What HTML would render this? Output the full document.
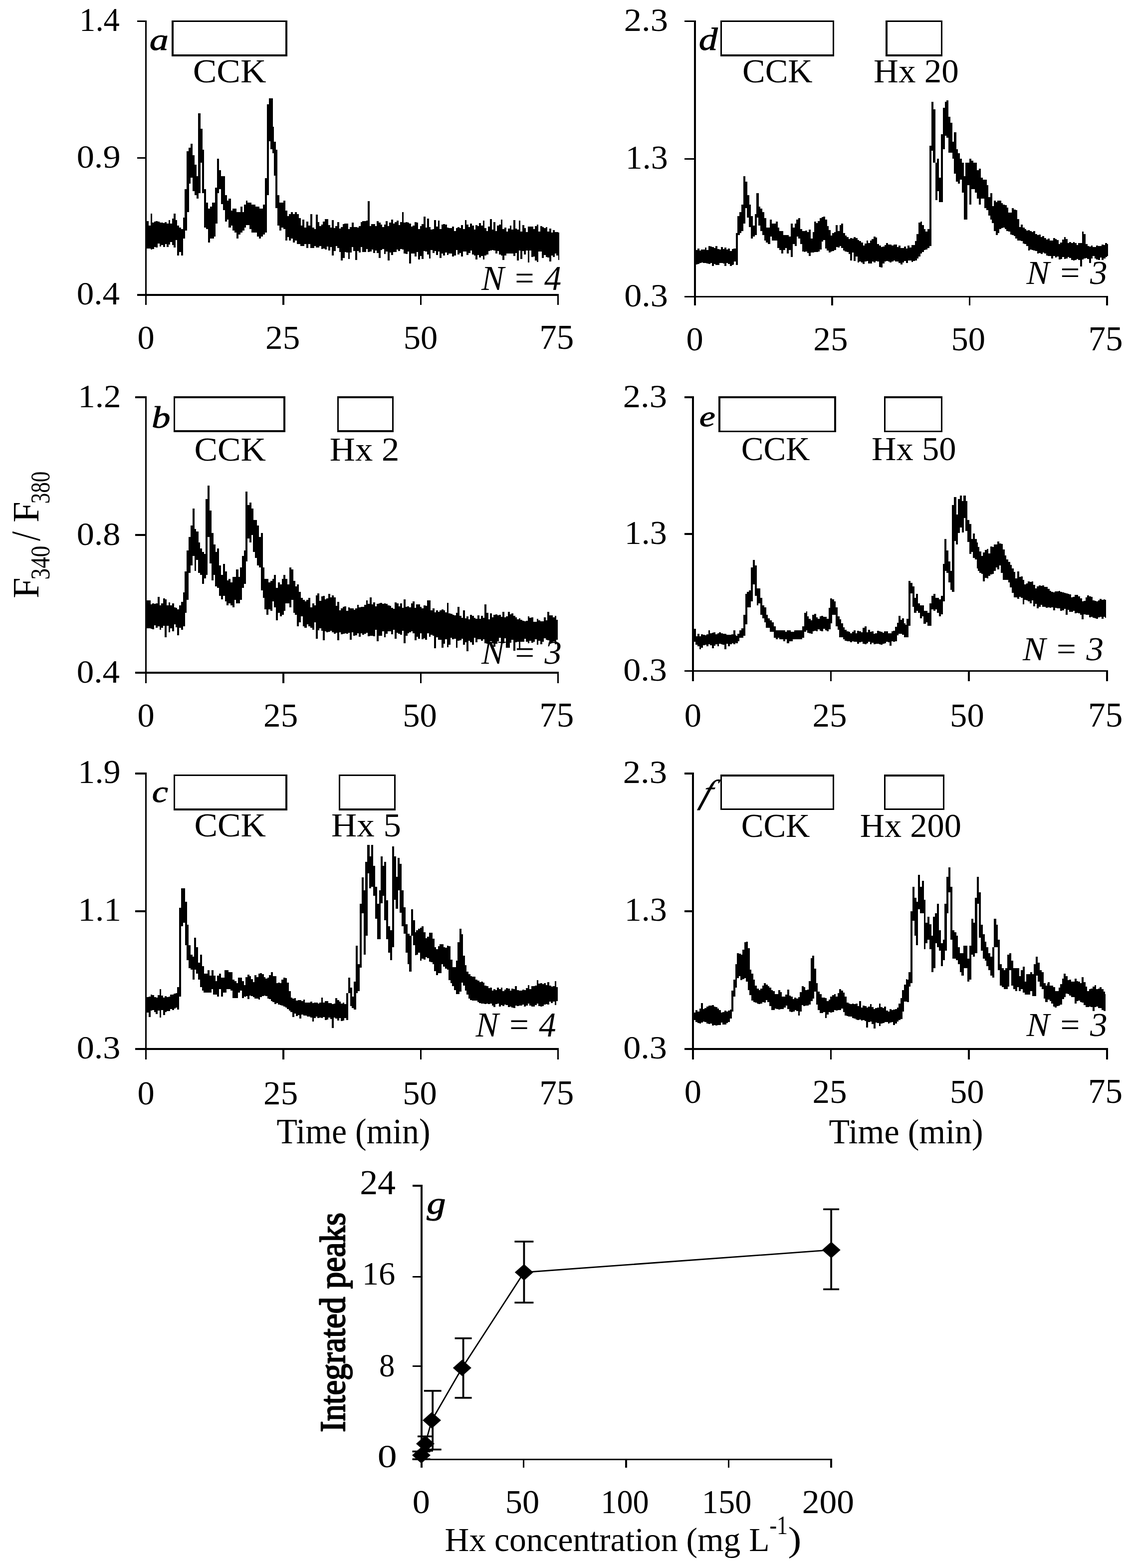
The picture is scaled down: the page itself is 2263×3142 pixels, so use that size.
<!DOCTYPE html>
<html><head><meta charset="utf-8"><title>Figure</title>
<style>
html,body{margin:0;padding:0;background:#fff;}
svg{display:block;}
text{font-family:"Liberation Serif","Times New Roman",serif;fill:#000;}
.r{font-style:normal;font-weight:normal;}
.i{font-style:italic;font-weight:normal;}
.b{font-style:normal;font-weight:bold;}
.bi{font-style:italic;font-weight:bold;}
</style></head><body>
<svg width="2263" height="3142" viewBox="0 0 2263 3142">
<rect width="2263" height="3142" fill="#fff"/>
<g fill="#000" shape-rendering="crispEdges">
<rect x="290.7" y="40.8" width="3.6" height="570.6"/>
<rect x="275.3" y="40.8" width="17.2" height="3.5"/>
<rect x="275.3" y="314.9" width="17.2" height="3.5"/>
<rect x="275.3" y="589.0" width="845.1" height="3.5"/>
<rect x="566.1" y="590.8" width="3.6" height="20.6"/>
<rect x="841.5" y="590.8" width="3.6" height="20.6"/>
<rect x="1116.8" y="590.8" width="3.6" height="20.6"/>
<rect x="290.7" y="794.4" width="3.6" height="574.3"/>
<rect x="271.3" y="794.4" width="21.2" height="3.5"/>
<rect x="271.3" y="1070.3" width="21.2" height="3.5"/>
<rect x="271.3" y="1346.3" width="849.1" height="3.5"/>
<rect x="566.1" y="1348.1" width="3.6" height="20.6"/>
<rect x="841.5" y="1348.1" width="3.6" height="20.6"/>
<rect x="1116.8" y="1348.1" width="3.6" height="20.6"/>
<rect x="290.7" y="1548.3" width="3.6" height="574.3"/>
<rect x="271.3" y="1548.2" width="21.2" height="3.5"/>
<rect x="271.3" y="1824.2" width="21.2" height="3.5"/>
<rect x="271.3" y="2100.2" width="849.1" height="3.5"/>
<rect x="566.1" y="2101.9" width="3.6" height="20.7"/>
<rect x="841.5" y="2101.9" width="3.6" height="20.7"/>
<rect x="1116.8" y="2101.9" width="3.6" height="20.7"/>
<rect x="1390.9" y="40.8" width="3.6" height="570.8"/>
<rect x="1371.9" y="40.8" width="20.8" height="3.5"/>
<rect x="1371.9" y="316.6" width="20.8" height="3.5"/>
<rect x="1371.9" y="592.5" width="848.8" height="3.5"/>
<rect x="1666.3" y="594.3" width="3.6" height="17.3"/>
<rect x="1941.7" y="594.3" width="3.6" height="17.3"/>
<rect x="2217.1" y="594.3" width="3.6" height="17.3"/>
<rect x="1387.1" y="794.4" width="3.6" height="570.7"/>
<rect x="1371.9" y="794.4" width="17.0" height="3.5"/>
<rect x="1371.9" y="1068.4" width="17.0" height="3.5"/>
<rect x="1371.9" y="1342.5" width="848.8" height="3.5"/>
<rect x="1663.7" y="1344.2" width="3.6" height="20.9"/>
<rect x="1940.3" y="1344.2" width="3.6" height="20.9"/>
<rect x="2217.1" y="1344.2" width="3.6" height="20.9"/>
<rect x="1387.1" y="1548.3" width="3.6" height="574.3"/>
<rect x="1371.9" y="1548.2" width="17.0" height="3.5"/>
<rect x="1371.9" y="1824.2" width="17.0" height="3.5"/>
<rect x="1371.9" y="2100.2" width="848.8" height="3.5"/>
<rect x="1663.7" y="2101.9" width="3.6" height="20.7"/>
<rect x="1940.3" y="2101.9" width="3.6" height="20.7"/>
<rect x="2217.1" y="2101.9" width="3.6" height="20.7"/>
<rect x="842.8" y="2374.3" width="3.8" height="566.6"/>
<rect x="827.2" y="2374.2" width="17.5" height="3.6"/>
<rect x="827.2" y="2556.6" width="17.5" height="3.6"/>
<rect x="827.2" y="2735.8" width="17.5" height="3.6"/>
<rect x="827.2" y="2922.5" width="840.6" height="3.6"/>
<rect x="1047.6" y="2924.3" width="3.6" height="16.6"/>
<rect x="1253.2" y="2924.3" width="3.6" height="16.6"/>
<rect x="1458.7" y="2924.3" width="3.6" height="16.6"/>
<rect x="1664.2" y="2924.3" width="3.6" height="16.6"/>
</g>
<g fill="none" stroke="#000" stroke-width="3.6" shape-rendering="crispEdges">
<rect x="345.8" y="42.4" width="228.4" height="68.4"/>
<rect x="349.5" y="796.1" width="220.8" height="68.1"/>
<rect x="677.4" y="796.1" width="110.0" height="68.1"/>
<rect x="349.5" y="1553.4" width="224.7" height="68.7"/>
<rect x="680.5" y="1553.4" width="111.0" height="68.7"/>
<rect x="1445.7" y="42.4" width="225.0" height="68.3"/>
<rect x="1777.1" y="42.4" width="110.5" height="68.3"/>
<rect x="1442.2" y="796.3" width="231.9" height="68.1"/>
<rect x="1773.6" y="796.3" width="114.0" height="68.1"/>
<rect x="1445.7" y="1554.1" width="225.0" height="67.3"/>
<rect x="1773.6" y="1554.1" width="118.1" height="67.3"/>
</g>
<g fill="#000">
<text class="r" font-size="66.77" transform="translate(159.12,61.97) scale(0.9672,1)">1.4</text>
<text class="r" font-size="66.18" transform="translate(153.63,336.12) scale(1.0637,1)">0.9</text>
<text class="r" font-size="66.18" transform="translate(153.68,610.27) scale(1.0424,1)">0.4</text>
<text class="r" font-size="68.20" transform="translate(275.40,698.72) scale(1.0029,1)">0</text>
<text class="r" font-size="68.60" transform="translate(532.11,698.71) scale(1.0083,1)">25</text>
<text class="r" font-size="68.20" transform="translate(808.82,698.72) scale(1.0057,1)">50</text>
<text class="r" font-size="69.43" transform="translate(1081.13,698.71) scale(0.9967,1)">75</text>
<text class="r" font-size="66.57" transform="translate(156.22,815.57) scale(1.0372,1)">1.2</text>
<text class="r" font-size="66.18" transform="translate(153.63,1091.57) scale(1.0619,1)">0.8</text>
<text class="r" font-size="66.18" transform="translate(153.68,1367.57) scale(1.0424,1)">0.4</text>
<text class="r" font-size="68.20" transform="translate(275.40,1456.02) scale(1.0029,1)">0</text>
<text class="r" font-size="68.60" transform="translate(528.11,1456.01) scale(1.0083,1)">25</text>
<text class="r" font-size="68.20" transform="translate(807.32,1456.02) scale(1.0057,1)">50</text>
<text class="r" font-size="69.43" transform="translate(1081.13,1456.01) scale(0.9967,1)">75</text>
<text class="r" font-size="66.57" transform="translate(156.30,1569.47) scale(1.0242,1)">1.9</text>
<text class="r" font-size="66.77" transform="translate(156.19,1845.42) scale(1.0397,1)">1.1</text>
<text class="r" font-size="66.18" transform="translate(153.63,2121.37) scale(1.0619,1)">0.3</text>
<text class="r" font-size="67.90" transform="translate(275.40,2213.42) scale(1.0073,1)">0</text>
<text class="r" font-size="68.30" transform="translate(528.11,2213.42) scale(1.0127,1)">25</text>
<text class="r" font-size="67.90" transform="translate(807.22,2213.42) scale(1.0101,1)">50</text>
<text class="r" font-size="69.13" transform="translate(1081.13,2213.41) scale(1.0010,1)">75</text>
<text class="r" font-size="66.57" transform="translate(1250.69,61.97) scale(1.0611,1)">2.3</text>
<text class="r" font-size="66.57" transform="translate(1253.81,337.87) scale(1.0224,1)">1.3</text>
<text class="r" font-size="66.18" transform="translate(1251.13,613.77) scale(1.0619,1)">0.3</text>
<text class="r" font-size="68.20" transform="translate(1375.60,702.22) scale(1.0029,1)">0</text>
<text class="r" font-size="68.60" transform="translate(1630.31,702.21) scale(1.0083,1)">25</text>
<text class="r" font-size="68.20" transform="translate(1906.52,702.22) scale(1.0057,1)">50</text>
<text class="r" font-size="69.43" transform="translate(2181.43,702.21) scale(0.9967,1)">75</text>
<text class="r" font-size="66.57" transform="translate(1248.69,815.57) scale(1.0611,1)">2.3</text>
<text class="r" font-size="66.57" transform="translate(1251.81,1089.62) scale(1.0224,1)">1.3</text>
<text class="r" font-size="66.18" transform="translate(1249.13,1363.67) scale(1.0619,1)">0.3</text>
<text class="r" font-size="67.90" transform="translate(1371.80,1455.72) scale(1.0073,1)">0</text>
<text class="r" font-size="68.30" transform="translate(1628.41,1455.72) scale(1.0127,1)">25</text>
<text class="r" font-size="67.90" transform="translate(1904.12,1455.72) scale(1.0101,1)">50</text>
<text class="r" font-size="69.13" transform="translate(2181.03,1455.71) scale(1.0010,1)">75</text>
<text class="r" font-size="66.57" transform="translate(1248.69,1569.47) scale(1.0611,1)">2.3</text>
<text class="r" font-size="66.57" transform="translate(1251.81,1845.42) scale(1.0224,1)">1.3</text>
<text class="r" font-size="66.18" transform="translate(1249.13,2121.37) scale(1.0619,1)">0.3</text>
<text class="r" font-size="68.20" transform="translate(1371.80,2209.82) scale(1.0029,1)">0</text>
<text class="r" font-size="68.60" transform="translate(1628.41,2209.81) scale(1.0083,1)">25</text>
<text class="r" font-size="68.20" transform="translate(1903.92,2209.82) scale(1.0057,1)">50</text>
<text class="r" font-size="69.43" transform="translate(2181.03,2209.81) scale(0.9967,1)">75</text>
<text class="r" font-size="68.30" transform="translate(386.74,165.22) scale(1.0451,1)">CCK</text>
<text class="r" font-size="67.26" transform="translate(389.51,922.53) scale(1.0376,1)">CCK</text>
<text class="r" font-size="67.26" transform="translate(389.51,1676.33) scale(1.0376,1)">CCK</text>
<text class="r" font-size="67.26" transform="translate(1488.07,164.93) scale(1.0161,1)">CCK</text>
<text class="r" font-size="67.26" transform="translate(1485.72,922.33) scale(0.9961,1)">CCK</text>
<text class="r" font-size="67.41" transform="translate(1485.72,1676.73) scale(0.9939,1)">CCK</text>
<text class="r" font-size="68.28" transform="translate(660.82,923.20) scale(1.0361,1)">Hx 2</text>
<text class="r" font-size="68.07" transform="translate(664.01,1676.32) scale(1.0428,1)">Hx 5</text>
<text class="r" font-size="66.86" transform="translate(1751.07,164.93) scale(1.0331,1)">Hx 20</text>
<text class="r" font-size="66.86" transform="translate(1746.98,922.33) scale(1.0263,1)">Hx 50</text>
<text class="r" font-size="67.01" transform="translate(1723.69,1676.73) scale(1.0204,1)">Hx 200</text>
<text class="i" font-size="69.76" transform="translate(965.05,581.00) scale(0.9797,1)">N = 4</text>
<text class="i" font-size="67.41" transform="translate(965.05,1330.33) scale(1.0191,1)">N = 3</text>
<text class="i" font-size="69.30" transform="translate(953.55,2076.90) scale(0.9930,1)">N = 4</text>
<text class="i" font-size="68.15" transform="translate(2057.45,569.22) scale(1.0155,1)">N = 3</text>
<text class="i" font-size="68.15" transform="translate(2050.05,1322.62) scale(1.0149,1)">N = 3</text>
<text class="i" font-size="67.86" transform="translate(2057.45,2076.22) scale(1.0200,1)">N = 3</text>
<text class="i" font-size="61.04" transform="translate(299.82,99.89) scale(1.2476,1)" stroke="#000" stroke-width="1.00" stroke-linejoin="round">a</text>
<text class="i" font-size="61.93" transform="translate(304.05,856.88) scale(1.2110,1)" stroke="#000" stroke-width="1.00" stroke-linejoin="round">b</text>
<text class="i" font-size="60.79" transform="translate(304.73,1606.89) scale(1.1890,1)" stroke="#000" stroke-width="1.00" stroke-linejoin="round">c</text>
<text class="i" font-size="62.50" transform="translate(1400.73,99.88) scale(1.2102,1)" stroke="#000" stroke-width="1.00" stroke-linejoin="round">d</text>
<text class="i" font-size="59.75" transform="translate(1401.74,854.40) scale(1.2040,1)" stroke="#000" stroke-width="1.00" stroke-linejoin="round">e</text>
<text class="i" font-size="63.20" transform="translate(855.50,2431.90) scale(1.2019,1)" stroke="#000" stroke-width="1.00" stroke-linejoin="round">g</text>
<text class="i" font-size="66.6" transform="translate(1401.8,1609.4) skewX(-20)" stroke="#000" stroke-width="0.6">f</text>
<text class="r" font-size="70.99" transform="translate(554.38,2291.00) scale(0.9549,1)">Time (min)</text>
<text class="r" font-size="70.23" transform="translate(1661.58,2291.00) scale(0.9684,1)">Time (min)</text>
<text class="r" font-size="73.85" transform="translate(76.70,1199.11) rotate(-90) scale(1.0183,1)">F</text>
<text class="r" font-size="54.88" transform="translate(98.65,1161.48) rotate(-90) scale(0.8260,1)">340</text>
<text class="r" font-size="82.99" transform="translate(79.47,1084.00) rotate(-90) scale(0.8323,1)">/</text>
<text class="r" font-size="73.85" transform="translate(76.70,1047.11) rotate(-90) scale(1.0183,1)">F</text>
<text class="r" font-size="54.88" transform="translate(98.65,1009.37) rotate(-90) scale(0.7848,1)">380</text>
<text class="r" font-size="68.88" transform="translate(721.14,2392.90) scale(1.0440,1)">24</text>
<text class="r" font-size="66.37" transform="translate(725.73,2574.34) scale(1.0045,1)">16</text>
<text class="r" font-size="66.57" transform="translate(760.02,2757.53) scale(0.9424,1)">8</text>
<text class="r" font-size="66.57" transform="translate(756.74,2940.23) scale(1.1692,1)">0</text>
<text class="r" font-size="68.34" transform="translate(826.63,3031.92) scale(1.0284,1)">0</text>
<text class="r" font-size="68.34" transform="translate(1012.83,3031.92) scale(1.0019,1)">50</text>
<text class="r" font-size="68.34" transform="translate(1204.34,3031.92) scale(0.9403,1)">100</text>
<text class="r" font-size="68.34" transform="translate(1406.76,3031.92) scale(0.9712,1)">150</text>
<text class="r" font-size="68.34" transform="translate(1607.74,3031.92) scale(1.0164,1)">200</text>
<text class="r" font-size="68.55" transform="translate(891.61,3108.30) scale(0.9857,1)">Hx concentration (mg L</text>
<text class="r" font-size="53.79" transform="translate(1542.41,3074.00) scale(0.8187,1)">-1</text>
<text class="r" font-size="70.42" transform="translate(1579.42,3108.37) scale(1.1449,1)">)</text>
<text class="r" font-size="71.90" transform="translate(690.50,2869.81) rotate(-90) scale(0.9300,1)" stroke="#000" stroke-width="2.40" stroke-linejoin="round">Integrated peaks</text>
</g>
<g fill="#000" shape-rendering="crispEdges">
<path d="M294.3 442.5h3.9v55.0h-3.9zM297.9 451.9h3.9v45.9h-3.9zM301.5 427.6h3.9v72.6h-3.9zM305.1 446.3h3.9v53.1h-3.9zM308.7 444.1h3.9v50.9h-3.9zM312.3 443.2h3.9v52.4h-3.9zM315.9 444.0h3.9v43.7h-3.9zM319.5 445.7h3.9v48.4h-3.9zM323.1 446.0h3.9v45.4h-3.9zM326.7 447.4h3.9v47.7h-3.9zM330.3 445.3h3.9v43.3h-3.9zM333.9 447.6h3.9v46.9h-3.9zM337.5 441.4h3.9v48.8h-3.9zM341.1 448.3h3.9v36.6h-3.9zM344.7 437.9h3.9v53.3h-3.9zM348.3 427.7h3.9v68.1h-3.9zM351.9 440.8h3.4v40.5h-3.4zM633.3 429.5h3.3v66.3h-3.3zM636.3 444.6h3.9v51.2h-3.9zM639.9 453.3h3.9v39.2h-3.9zM643.5 449.9h3.9v48.7h-3.9zM647.1 443.5h3.9v54.7h-3.9zM650.7 439.0h3.9v61.0h-3.9zM654.3 438.6h3.9v55.4h-3.9zM657.9 450.8h3.9v51.2h-3.9zM661.5 455.8h3.9v39.4h-3.9zM665.1 441.4h3.9v70.6h-3.9zM668.7 456.6h3.9v46.4h-3.9zM672.3 453.0h3.9v40.0h-3.9zM675.9 445.1h3.9v52.1h-3.9zM679.5 457.5h3.9v47.2h-3.9zM683.1 454.5h3.9v67.8h-3.9zM686.7 449.3h3.9v67.2h-3.9zM690.3 448.1h3.9v57.0h-3.9zM693.9 447.8h3.9v58.5h-3.9zM697.5 458.8h3.9v60.6h-3.9zM701.1 455.1h3.9v50.4h-3.9zM704.7 446.1h3.9v49.3h-3.9zM708.3 455.0h3.9v48.1h-3.9zM711.9 454.5h3.9v66.4h-3.9zM715.5 456.3h3.9v46.5h-3.9zM719.1 453.0h3.9v52.5h-3.9zM722.7 444.7h3.9v50.7h-3.9zM726.3 442.8h3.9v62.5h-3.9zM729.9 442.5h3.9v62.5h-3.9zM733.5 442.1h3.9v56.8h-3.9zM737.1 402.5h3.9v102.8h-3.9zM740.7 452.9h3.9v51.2h-3.9zM744.3 448.7h3.9v51.7h-3.9zM747.9 449.0h3.9v57.6h-3.9zM751.5 453.0h3.9v49.0h-3.9zM755.1 443.4h3.9v63.3h-3.9zM758.7 445.6h3.9v70.9h-3.9zM762.3 449.9h3.9v50.6h-3.9zM765.9 455.2h3.9v43.3h-3.9zM769.5 449.8h3.9v59.1h-3.9zM773.1 442.6h3.9v61.6h-3.9zM776.7 453.3h3.9v68.6h-3.9zM780.3 445.7h3.9v60.0h-3.9zM783.9 440.2h3.9v70.5h-3.9zM787.5 448.1h3.9v56.8h-3.9zM791.1 444.7h3.9v60.0h-3.9zM794.7 441.7h3.9v57.9h-3.9zM798.3 450.7h3.9v52.0h-3.9zM801.9 445.3h3.9v53.2h-3.9zM805.5 425.4h3.9v75.0h-3.9zM809.1 445.5h3.9v62.8h-3.9zM812.7 444.7h3.9v64.5h-3.9zM816.3 445.8h3.9v57.8h-3.9zM819.9 447.6h3.9v80.0h-3.9zM823.5 454.3h3.9v54.0h-3.9zM827.1 452.4h3.9v55.9h-3.9zM830.7 445.4h3.9v68.3h-3.9zM834.3 446.4h3.9v59.0h-3.9zM837.9 458.5h3.9v61.3h-3.9zM841.5 453.4h3.9v59.5h-3.9zM845.1 448.8h3.9v70.6h-3.9zM848.7 433.7h3.9v69.6h-3.9zM852.3 456.4h3.9v47.3h-3.9zM855.9 438.2h3.9v72.1h-3.9zM859.5 454.7h3.9v63.1h-3.9zM863.1 460.2h3.9v40.9h-3.9zM866.7 458.7h3.9v48.5h-3.9zM870.3 440.6h3.9v62.6h-3.9zM873.9 454.4h3.9v56.8h-3.9zM877.5 442.2h3.9v62.2h-3.9zM881.1 459.3h3.9v58.0h-3.9zM884.7 450.4h3.9v58.0h-3.9zM888.3 448.8h3.9v63.1h-3.9zM891.9 449.7h3.9v56.0h-3.9zM895.5 455.6h3.9v55.1h-3.9zM899.1 457.4h3.9v50.1h-3.9zM902.7 457.0h3.9v50.9h-3.9zM906.3 453.5h3.9v60.2h-3.9zM909.9 462.9h3.9v48.7h-3.9zM913.5 457.2h3.9v43.7h-3.9zM917.1 454.5h3.9v55.9h-3.9zM920.7 456.9h3.9v50.1h-3.9zM924.3 451.0h3.9v62.7h-3.9zM927.9 458.6h3.9v45.1h-3.9zM931.5 441.4h3.9v62.9h-3.9zM935.1 450.3h3.9v60.5h-3.9zM938.7 454.6h3.9v52.1h-3.9zM942.3 448.4h3.9v53.8h-3.9zM945.9 452.4h3.9v57.1h-3.9zM949.5 460.0h3.9v51.9h-3.9zM953.1 450.5h3.9v69.2h-3.9zM956.7 453.2h3.9v58.2h-3.9zM960.3 447.3h3.9v68.2h-3.9zM963.9 452.4h3.9v60.2h-3.9zM967.5 442.1h3.9v77.4h-3.9zM971.1 457.1h3.9v55.3h-3.9zM974.7 462.6h3.9v47.0h-3.9zM978.3 453.5h3.9v49.5h-3.9zM981.9 439.4h3.9v62.7h-3.9zM985.5 460.1h3.9v41.2h-3.9zM989.1 445.3h3.9v56.8h-3.9zM992.7 462.6h3.9v44.9h-3.9zM996.3 451.5h3.9v51.3h-3.9zM999.9 450.3h3.9v59.9h-3.9zM1003.5 439.6h3.9v72.0h-3.9zM1007.1 458.8h3.9v61.9h-3.9zM1010.7 455.9h3.9v55.6h-3.9zM1014.3 463.7h3.9v43.9h-3.9zM1017.9 458.4h3.9v49.2h-3.9zM1021.5 452.2h3.9v55.7h-3.9zM1025.1 459.8h3.9v48.2h-3.9zM1028.7 440.7h3.9v71.8h-3.9zM1032.3 457.9h3.9v49.1h-3.9zM1035.9 459.6h3.9v62.0h-3.9zM1039.5 442.1h3.9v60.0h-3.9zM1043.1 464.3h3.9v55.0h-3.9zM1046.7 451.0h3.9v52.3h-3.9zM1050.3 457.2h3.9v52.9h-3.9zM1053.9 465.2h3.9v36.6h-3.9zM1057.5 454.4h3.9v71.1h-3.9zM1061.1 453.9h3.9v47.8h-3.9zM1064.7 454.0h3.9v60.8h-3.9zM1068.3 459.2h3.9v55.0h-3.9zM1071.9 452.6h3.9v69.0h-3.9zM1075.5 450.3h3.9v74.8h-3.9zM1079.1 463.8h3.9v40.0h-3.9zM1082.7 452.7h3.9v51.3h-3.9zM1086.3 455.0h3.9v62.3h-3.9zM1089.9 457.2h3.9v53.3h-3.9zM1093.5 454.5h3.9v60.0h-3.9zM1097.1 463.9h3.9v51.7h-3.9zM1100.7 457.5h3.9v66.6h-3.9zM1104.3 465.8h3.9v46.3h-3.9zM1107.9 460.9h3.9v53.7h-3.9zM1111.5 465.1h3.9v42.5h-3.9zM1115.1 464.7h3.9v47.7h-3.9zM1118.7 465.6h1.9v55.4h-1.9zM355.0 451.6h4.2v60.2h-4.2zM358.9 455.5h4.1v49.3h-4.1zM362.7 459.3h4.2v52.5h-4.2zM366.6 436.2h4.1v41.7h-4.1zM370.4 379.1h4.2v83.3h-4.2zM374.3 303.4h4.2v121.2h-4.2zM378.2 295.7h4.1v71.8h-4.1zM382.0 288.0h4.2v67.9h-4.2zM385.9 311.2h4.1v71.7h-4.1zM389.7 329.7h4.2v61.0h-4.2zM393.6 352.8h4.1v45.6h-4.1zM397.4 227.0h4.2v159.8h-4.2zM401.3 257.9h4.2v67.9h-4.2zM405.2 299.6h4.1v87.2h-4.1zM409.0 379.1h4.2v76.4h-4.2zM412.9 406.1h4.1v53.2h-4.1zM416.7 417.7h4.2v67.9h-4.2zM420.6 413.8h4.2v64.1h-4.2zM424.5 406.1h4.1v71.8h-4.1zM428.3 406.1h3.4v67.9h-3.4zM431.4 376.0h4.2v71.8h-4.2zM435.3 318.1h4.1v68.7h-4.1zM439.1 341.3h4.2v37.8h-4.2zM443.0 352.8h4.1v56.4h-4.1zM446.8 352.8h4.2v68.0h-4.2zM450.7 390.7h4.2v53.2h-4.2zM454.6 402.2h4.1v37.9h-4.1zM458.4 398.4h4.2v57.1h-4.2zM462.3 421.5h4.1v30.1h-4.1zM466.1 417.7h4.2v44.7h-4.2zM470.0 417.7h4.1v48.6h-4.1zM473.8 424.6h4.2v53.3h-4.2zM477.7 424.6h4.2v45.5h-4.2zM481.6 413.8h4.1v52.5h-4.1zM485.4 424.6h4.2v37.8h-4.2zM489.3 409.9h4.0v45.6h-4.0zM493.0 402.2h3.4v48.6h-3.4zM496.1 406.1h4.1v44.7h-4.1zM499.9 406.1h4.2v52.5h-4.2zM503.8 409.9h4.2v56.4h-4.2zM507.7 409.9h4.1v56.4h-4.1zM511.5 413.8h4.2v52.5h-4.2zM515.4 413.8h4.1v60.2h-4.1zM519.2 417.7h4.2v60.2h-4.2zM523.1 417.7h4.2v56.3h-4.2zM527.0 409.9h4.1v60.2h-4.1zM530.8 356.7h4.2v109.6h-4.2zM534.7 208.5h4.1v182.2h-4.1zM538.5 196.9h4.2v86.5h-4.2zM542.4 196.9h4.1v101.9h-4.1zM546.2 254.1h3.2v52.4h-3.2zM549.1 284.1h3.4v68.0h-3.4zM552.2 299.6h4.2v117.3h-4.2zM556.1 390.7h4.1v60.9h-4.1zM559.9 406.1h4.2v56.3h-4.2zM563.8 406.1h4.1v49.4h-4.1zM567.6 402.2h4.2v57.1h-4.2zM571.5 421.5h4.1v60.2h-4.1zM575.3 433.1h4.2v41.7h-4.2zM579.2 429.2h4.2v52.5h-4.2zM583.1 425.4h4.1v52.5h-4.1zM586.9 429.2h4.2v56.3h-4.2zM590.8 425.4h4.1v56.3h-4.1zM594.6 429.2h4.2v60.2h-4.2zM598.5 437.0h4.2v52.4h-4.2zM602.4 451.6h4.1v41.7h-4.1zM606.2 440.0h4.2v53.3h-4.2zM610.1 455.5h4.1v33.9h-4.1zM613.9 443.9h4.2v53.3h-4.2zM617.8 451.6h4.1v37.8h-4.1zM621.6 429.2h4.2v68.0h-4.2zM625.5 455.5h4.2v41.7h-4.2zM629.4 459.3h4.2v34.0h-4.2z"/>
<path d="M294.3 1202.6h3.9v56.0h-3.9zM297.9 1202.8h3.9v56.0h-3.9zM301.5 1210.8h3.9v49.5h-3.9zM305.1 1209.4h3.9v51.7h-3.9zM308.7 1209.5h3.9v43.1h-3.9zM312.3 1208.5h3.9v49.5h-3.9zM315.9 1196.3h3.9v58.5h-3.9zM319.5 1212.9h3.9v49.0h-3.9zM323.1 1208.7h3.9v49.0h-3.9zM326.7 1199.0h3.9v55.0h-3.9zM330.3 1201.2h3.9v76.1h-3.9zM333.9 1212.6h3.9v41.1h-3.9zM337.5 1207.4h3.9v59.1h-3.9zM341.1 1212.8h3.9v46.1h-3.9zM344.7 1208.5h3.9v56.8h-3.9zM348.3 1217.1h3.9v34.3h-3.9zM351.9 1218.2h3.4v39.0h-3.4zM632.8 1192.7h3.8v87.3h-3.8zM636.3 1188.8h3.9v73.7h-3.9zM639.9 1203.6h3.9v55.5h-3.9zM643.5 1194.9h3.9v68.9h-3.9zM647.1 1194.3h3.9v88.5h-3.9zM650.7 1201.4h3.9v63.2h-3.9zM654.3 1198.6h3.9v68.3h-3.9zM657.9 1189.5h3.9v76.1h-3.9zM661.5 1196.5h3.9v67.7h-3.9zM665.1 1192.6h3.9v74.6h-3.9zM668.7 1197.4h3.9v72.5h-3.9zM672.3 1214.3h3.9v53.4h-3.9zM675.9 1206.0h3.9v77.1h-3.9zM679.5 1222.5h3.9v44.4h-3.9zM683.1 1218.5h3.9v52.0h-3.9zM686.7 1215.6h3.9v54.6h-3.9zM690.3 1214.8h3.9v54.1h-3.9zM693.9 1223.5h3.9v46.0h-3.9zM697.5 1217.2h3.9v50.8h-3.9zM701.1 1218.6h3.9v63.3h-3.9zM704.7 1219.1h3.9v47.7h-3.9zM708.3 1221.5h3.9v52.4h-3.9zM711.9 1218.5h3.9v54.6h-3.9zM715.5 1212.4h3.9v56.2h-3.9zM719.1 1217.4h3.9v58.3h-3.9zM722.7 1215.7h3.9v53.4h-3.9zM726.3 1216.1h3.9v55.7h-3.9zM729.9 1211.5h3.9v58.9h-3.9zM733.5 1203.0h3.9v64.7h-3.9zM737.1 1210.3h3.9v64.9h-3.9zM740.7 1197.2h3.9v76.7h-3.9zM744.3 1210.7h3.9v62.9h-3.9zM747.9 1206.9h3.9v67.9h-3.9zM751.5 1214.7h3.9v47.5h-3.9zM755.1 1210.2h3.9v75.1h-3.9zM758.7 1208.8h3.9v65.5h-3.9zM762.3 1207.5h3.9v66.4h-3.9zM765.9 1210.1h3.9v54.4h-3.9zM769.5 1209.1h3.9v67.7h-3.9zM773.1 1210.1h3.9v59.8h-3.9zM776.7 1212.6h3.9v52.3h-3.9zM780.3 1213.7h3.9v50.9h-3.9zM783.9 1217.6h3.9v53.6h-3.9zM787.5 1219.6h3.9v42.0h-3.9zM791.1 1206.9h3.9v72.6h-3.9zM794.7 1209.4h3.9v58.1h-3.9zM798.3 1214.9h3.9v55.5h-3.9zM801.9 1208.5h3.9v63.3h-3.9zM805.5 1218.0h3.9v46.0h-3.9zM809.1 1201.3h3.9v87.3h-3.9zM812.7 1216.2h3.9v58.0h-3.9zM816.3 1215.0h3.9v53.6h-3.9zM819.9 1217.4h3.9v49.3h-3.9zM823.5 1208.6h3.9v56.8h-3.9zM827.1 1204.9h3.9v63.9h-3.9zM830.7 1218.2h3.9v64.4h-3.9zM834.3 1211.2h3.9v64.4h-3.9zM837.9 1211.1h3.9v69.3h-3.9zM841.5 1215.8h3.9v53.1h-3.9zM845.1 1219.3h3.9v62.0h-3.9zM848.7 1213.3h3.9v65.4h-3.9zM852.3 1214.1h3.9v67.7h-3.9zM855.9 1202.5h3.9v66.8h-3.9zM859.5 1202.6h3.9v73.8h-3.9zM863.1 1223.2h3.9v48.4h-3.9zM866.7 1218.9h3.9v55.3h-3.9zM870.3 1226.8h3.9v71.8h-3.9zM873.9 1222.8h3.9v54.2h-3.9zM877.5 1225.6h3.9v55.9h-3.9zM881.1 1222.8h3.9v59.6h-3.9zM884.7 1220.9h3.9v77.3h-3.9zM888.3 1223.0h3.9v66.6h-3.9zM891.9 1227.0h3.9v53.5h-3.9zM895.5 1208.3h3.9v88.4h-3.9zM899.1 1228.8h3.9v63.0h-3.9zM902.7 1230.2h3.9v47.9h-3.9zM906.3 1232.0h3.9v49.1h-3.9zM909.9 1233.3h3.9v46.3h-3.9zM913.5 1228.2h3.9v69.9h-3.9zM917.1 1216.3h3.9v67.3h-3.9zM920.7 1233.9h3.9v49.0h-3.9zM924.3 1237.5h3.9v42.7h-3.9zM927.9 1222.5h3.9v69.9h-3.9zM931.5 1238.5h3.9v48.5h-3.9zM935.1 1234.6h3.9v70.1h-3.9zM938.7 1241.0h3.9v42.5h-3.9zM942.3 1232.2h3.9v55.0h-3.9zM945.9 1234.3h3.9v57.8h-3.9zM949.5 1238.1h3.9v40.1h-3.9zM953.1 1239.6h3.9v46.9h-3.9zM956.7 1233.4h3.9v48.0h-3.9zM960.3 1239.5h3.9v41.0h-3.9zM963.9 1233.8h3.9v50.2h-3.9zM967.5 1237.6h3.9v43.7h-3.9zM971.1 1210.9h3.9v77.9h-3.9zM974.7 1228.1h3.9v62.1h-3.9zM978.3 1240.7h3.9v47.4h-3.9zM981.9 1229.1h3.9v55.8h-3.9zM985.5 1236.8h3.9v52.5h-3.9zM989.1 1231.6h3.9v63.9h-3.9zM992.7 1230.5h3.9v59.8h-3.9zM996.3 1233.1h3.9v52.1h-3.9zM999.9 1231.8h3.9v45.9h-3.9zM1003.5 1235.6h3.9v52.0h-3.9zM1007.1 1225.5h3.9v63.9h-3.9zM1010.7 1237.4h3.9v41.7h-3.9zM1014.3 1234.6h3.9v63.6h-3.9zM1017.9 1225.6h3.9v72.4h-3.9zM1021.5 1230.9h3.9v57.2h-3.9zM1025.1 1228.6h3.9v52.9h-3.9zM1028.7 1234.4h3.9v69.2h-3.9zM1032.3 1236.8h3.9v50.3h-3.9zM1035.9 1241.4h3.9v44.6h-3.9zM1039.5 1239.4h3.9v60.3h-3.9zM1043.1 1242.0h3.9v44.4h-3.9zM1046.7 1243.7h3.9v42.5h-3.9zM1050.3 1244.5h3.9v35.3h-3.9zM1053.9 1243.5h3.9v42.8h-3.9zM1057.5 1234.9h3.9v53.8h-3.9zM1061.1 1238.3h3.9v45.3h-3.9zM1064.7 1237.0h3.9v50.5h-3.9zM1068.3 1246.3h3.9v39.6h-3.9zM1071.9 1245.9h3.9v35.1h-3.9zM1075.5 1240.4h3.9v51.9h-3.9zM1079.1 1242.8h3.9v41.5h-3.9zM1082.7 1245.3h3.9v45.2h-3.9zM1086.3 1245.1h3.9v41.2h-3.9zM1089.9 1236.6h3.9v41.9h-3.9zM1093.5 1242.8h3.9v39.5h-3.9zM1097.1 1226.0h3.9v57.0h-3.9zM1100.7 1233.0h3.9v56.7h-3.9zM1104.3 1233.3h3.9v52.7h-3.9zM1107.9 1237.0h3.9v48.0h-3.9zM1111.5 1233.7h3.9v57.0h-3.9zM1115.1 1241.9h3.2v40.4h-3.2zM355.0 1221.2h4.2v51.7h-4.2zM358.9 1213.2h4.1v45.2h-4.1zM362.7 1206.0h4.2v56.0h-4.2zM366.6 1187.0h4.0v67.7h-4.0zM370.3 1144.8h3.9v83.0h-3.9zM373.9 1103.4h4.4v98.2h-4.4zM378.0 1076.4h4.2v71.4h-4.2zM381.9 1053.1h4.0v79.4h-4.0zM385.6 1018.9h4.2v94.6h-4.2zM389.5 1060.4h3.9v83.7h-3.9zM393.1 1064.8h4.4v56.8h-4.4zM397.2 1087.3h3.9v60.5h-3.9zM400.8 1099.0h4.3v53.1h-4.3zM404.8 1106.3h4.1v64.0h-4.1zM408.6 1109.9h3.9v49.5h-3.9zM412.2 1000.0h4.2v152.1h-4.2zM416.1 973.1h4.3v102.6h-4.3zM420.1 1022.6h3.9v106.2h-3.9zM423.7 1068.4h4.1v94.6h-4.1zM427.5 1091.0h4.2v61.1h-4.2zM431.4 1106.3h3.9v68.4h-3.9zM435.0 1099.0h4.3v79.3h-4.3zM439.0 1133.2h4.4v60.4h-4.4zM443.1 1152.1h3.9v48.8h-3.9zM446.7 1129.6h4.2v64.0h-4.2zM450.6 1144.8h4.0v60.4h-4.0zM454.3 1163.0h4.0v49.5h-4.0zM458.0 1160.1h4.3v48.8h-4.3zM462.0 1167.4h4.2v45.1h-4.2zM465.9 1155.7h3.9v61.2h-3.9zM469.5 1155.7h4.1v45.9h-4.1zM473.3 1141.2h4.3v67.7h-4.3zM477.3 1155.7h3.9v53.2h-3.9zM480.9 1136.8h4.2v64.8h-4.2zM484.8 1114.3h4.1v64.0h-4.1zM488.6 1103.4h3.9v66.9h-3.9zM492.2 984.7h4.0v140.5h-4.0zM495.9 1011.7h4.1v67.6h-4.1zM499.7 1007.3h4.2v80.0h-4.2zM503.6 1018.9h4.0v53.2h-4.0zM507.3 1042.2h3.9v64.1h-3.9zM510.9 1042.2h4.4v75.7h-4.4zM515.0 1053.1h4.2v80.1h-4.2zM518.9 1075.7h4.0v61.1h-4.0zM522.6 1068.4h4.2v114.3h-4.2zM526.5 1136.8h3.9v61.1h-3.9zM530.1 1160.1h4.4v60.4h-4.4zM534.2 1160.1h3.9v71.4h-3.9zM537.8 1167.4h4.3v53.1h-4.3zM541.8 1163.8h4.1v60.4h-4.1zM545.6 1160.1h3.9v45.1h-3.9zM549.2 1152.1h4.2v64.8h-4.2zM553.1 1178.3h4.3v64.8h-4.3zM557.1 1167.4h3.9v60.4h-3.9zM560.7 1171.0h4.1v64.1h-4.1zM564.5 1160.1h4.2v71.4h-4.2zM568.4 1152.1h3.9v72.1h-3.9zM572.0 1160.1h4.3v48.8h-4.3zM576.0 1171.0h4.4v37.9h-4.4zM580.1 1136.8h3.9v80.1h-3.9zM583.7 1141.2h4.2v60.4h-4.2zM587.6 1163.8h4.0v64.0h-4.0zM591.3 1174.7h4.0v56.8h-4.0zM595.0 1171.0h4.3v83.7h-4.3zM599.0 1186.3h4.2v60.4h-4.2zM602.9 1197.9h3.9v37.2h-3.9zM606.5 1201.6h4.1v53.1h-4.1zM610.3 1205.2h4.3v53.2h-4.3zM614.3 1201.6h3.9v49.5h-3.9zM617.9 1197.9h4.2v56.8h-4.2zM621.8 1216.9h4.1v41.5h-4.1zM625.6 1208.9h3.9v53.1h-3.9zM629.2 1213.2h3.9v33.5h-3.9z"/>
<path d="M294.3 1998.2h3.9v30.5h-3.9zM297.9 1996.6h3.9v41.2h-3.9zM301.5 1992.5h3.9v32.7h-3.9zM305.1 1994.1h3.9v30.2h-3.9zM308.7 1997.6h3.9v30.6h-3.9zM312.3 1998.5h3.9v33.6h-3.9zM315.9 1994.0h3.9v31.4h-3.9zM319.5 1982.2h3.9v56.6h-3.9zM323.1 1995.0h3.9v29.3h-3.9zM326.7 1998.6h3.9v35.8h-3.9zM330.3 1996.1h3.9v31.5h-3.9zM333.9 1998.1h3.9v28.2h-3.9zM337.5 1997.2h3.9v28.8h-3.9zM341.1 1993.0h3.9v29.2h-3.9zM344.7 1993.2h3.9v30.5h-3.9zM348.3 1990.6h3.9v30.6h-3.9zM351.9 1982.5h0.4v40.4h-0.4zM492.1 1967.8h0.5v30.0h-0.5zM492.3 1958.1h3.9v38.1h-3.9zM495.9 1953.3h3.9v48.6h-3.9zM499.5 1955.7h3.9v39.3h-3.9zM503.1 1961.5h3.9v34.1h-3.9zM506.7 1968.2h3.9v29.4h-3.9zM510.3 1954.4h3.9v46.4h-3.9zM513.9 1958.0h3.9v43.3h-3.9zM517.5 1951.0h3.9v52.2h-3.9zM521.1 1949.8h3.9v47.7h-3.9zM524.7 1952.0h3.9v44.3h-3.9zM528.3 1957.7h3.9v37.1h-3.9zM531.9 1960.9h3.9v35.3h-3.9zM535.5 1959.3h3.9v41.5h-3.9zM539.1 1954.4h3.9v47.7h-3.9zM542.7 1948.2h3.9v57.3h-3.9zM546.3 1955.6h3.9v52.4h-3.9zM549.9 1955.5h3.9v56.1h-3.9zM553.5 1969.7h3.9v39.8h-3.9zM557.1 1969.2h3.9v44.0h-3.9zM560.7 1970.1h3.9v43.6h-3.9zM564.3 1963.3h3.9v51.5h-3.9zM567.9 1959.4h3.9v57.4h-3.9zM571.5 1959.5h3.9v59.8h-3.9zM575.1 1968.7h3.9v53.5h-3.9zM578.7 1986.4h3.9v38.3h-3.9zM582.3 1999.3h3.9v28.4h-3.9zM585.9 2001.4h3.9v36.8h-3.9zM589.5 2000.1h3.9v30.9h-3.9zM593.1 2004.6h3.9v30.9h-3.9zM596.7 2004.0h3.9v30.3h-3.9zM600.3 2003.9h3.9v36.8h-3.9zM603.9 2005.8h3.9v27.4h-3.9zM607.5 2003.4h3.9v31.3h-3.9zM611.1 2008.9h3.9v25.8h-3.9zM614.7 2009.2h3.9v27.7h-3.9zM618.3 2008.8h3.9v28.5h-3.9zM621.9 2007.0h3.9v32.3h-3.9zM625.5 2010.0h3.9v37.3h-3.9zM629.1 2009.3h3.9v30.8h-3.9zM632.7 2008.8h3.9v28.2h-3.9zM636.3 2010.8h3.9v29.3h-3.9zM639.9 2008.8h3.9v30.3h-3.9zM643.5 1999.4h3.9v40.8h-3.9zM647.1 2008.5h3.9v29.6h-3.9zM650.7 2006.1h3.9v37.5h-3.9zM654.3 2006.1h3.9v36.8h-3.9zM657.9 2010.1h3.9v28.5h-3.9zM661.5 2010.4h3.9v31.6h-3.9zM665.1 2011.7h3.9v48.0h-3.9zM668.7 2010.6h3.9v28.3h-3.9zM672.3 2000.4h3.9v40.9h-3.9zM675.9 2004.4h3.9v40.7h-3.9zM679.5 2007.3h3.9v32.7h-3.9zM683.1 2010.6h3.9v35.3h-3.9zM686.7 2009.4h3.6v35.5h-3.6zM831.9 1867.9h2.7v46.3h-2.7zM834.3 1864.4h3.9v48.3h-3.9zM837.9 1860.7h3.9v48.5h-3.9zM841.5 1858.6h3.9v66.1h-3.9zM845.1 1855.8h3.9v65.3h-3.9zM848.7 1867.7h3.9v55.0h-3.9zM852.3 1879.6h3.9v38.4h-3.9zM855.9 1876.9h3.9v42.8h-3.9zM859.5 1869.1h3.9v58.2h-3.9zM863.1 1868.5h3.9v59.8h-3.9zM866.7 1880.8h3.9v51.5h-3.9zM870.3 1898.2h3.9v47.3h-3.9zM873.9 1902.2h3.9v51.8h-3.9zM877.5 1895.6h3.9v54.8h-3.9zM881.1 1891.5h3.9v58.5h-3.9zM884.7 1891.8h3.9v40.3h-3.9zM888.3 1897.9h3.9v38.9h-3.9zM891.9 1899.4h3.9v41.4h-3.9zM895.5 1895.0h3.9v48.4h-3.9zM899.1 1896.0h3.9v67.8h-3.9zM902.7 1923.0h3.9v46.6h-3.9zM906.3 1937.6h3.9v38.2h-3.9zM909.9 1938.2h3.9v46.1h-3.9zM913.5 1924.5h3.9v67.7h-3.9zM917.1 1887.7h3.9v103.8h-3.9zM920.7 1861.4h3.9v125.3h-3.9zM924.3 1872.0h3.9v96.6h-3.9zM927.9 1915.2h3.9v60.1h-3.9zM931.5 1934.3h3.9v50.3h-3.9zM935.1 1946.5h3.9v46.0h-3.9zM938.7 1951.9h3.9v48.8h-3.9zM942.3 1956.1h3.9v47.9h-3.9zM945.9 1956.6h3.9v48.7h-3.9zM949.5 1957.1h3.9v47.9h-3.9zM953.1 1962.8h3.9v42.6h-3.9zM956.7 1964.9h3.9v43.3h-3.9zM960.3 1968.3h3.9v41.7h-3.9zM963.9 1966.6h3.9v44.0h-3.9zM967.5 1968.9h3.9v41.8h-3.9zM971.1 1974.9h3.9v36.8h-3.9zM974.7 1976.1h3.9v34.4h-3.9zM978.3 1980.3h3.9v31.4h-3.9zM981.9 1979.0h3.9v31.8h-3.9zM985.5 1985.2h3.9v30.0h-3.9zM989.1 1981.6h3.9v36.1h-3.9zM992.7 1984.1h3.9v27.8h-3.9zM996.3 1978.5h3.9v32.8h-3.9zM999.9 1981.8h3.9v35.0h-3.9zM1003.5 1979.2h3.9v35.1h-3.9zM1007.1 1985.5h3.9v30.1h-3.9zM1010.7 1982.7h3.9v30.0h-3.9zM1014.3 1980.3h3.9v33.5h-3.9zM1017.9 1980.7h3.9v37.2h-3.9zM1021.5 1984.5h3.9v32.9h-3.9zM1025.1 1981.1h3.9v38.0h-3.9zM1028.7 1981.9h3.9v37.6h-3.9zM1032.3 1975.9h3.9v38.7h-3.9zM1035.9 1984.3h3.9v31.9h-3.9zM1039.5 1984.9h3.9v29.6h-3.9zM1043.1 1985.2h3.9v29.4h-3.9zM1046.7 1983.3h3.9v30.1h-3.9zM1050.3 1984.0h3.9v33.2h-3.9zM1053.9 1979.7h3.9v35.0h-3.9zM1057.5 1973.8h3.9v37.6h-3.9zM1061.1 1981.9h3.9v33.3h-3.9zM1064.7 1976.4h3.9v40.7h-3.9zM1068.3 1975.8h3.9v40.8h-3.9zM1071.9 1974.8h3.9v39.5h-3.9zM1075.5 1964.1h3.9v46.4h-3.9zM1079.1 1971.0h3.9v45.0h-3.9zM1082.7 1970.1h3.9v46.8h-3.9zM1086.3 1971.9h3.9v43.6h-3.9zM1089.9 1969.6h3.9v43.8h-3.9zM1093.5 1974.2h3.9v37.5h-3.9zM1097.1 1968.2h3.9v44.7h-3.9zM1100.7 1975.3h3.9v31.5h-3.9zM1104.3 1977.1h3.9v33.3h-3.9zM1107.9 1975.7h3.9v31.0h-3.9zM1111.5 1965.6h3.9v48.3h-3.9zM1115.1 1977.9h3.2v28.3h-3.2zM352.0 1989.7h3.6v29.6h-3.6zM355.3 1978.0h4.0v45.0h-4.0zM359.0 1818.7h4.2v177.8h-4.2zM362.9 1780.4h4.0v75.3h-4.0zM366.6 1780.4h4.2v68.6h-4.2zM370.5 1807.0h4.0v87.0h-4.0zM374.2 1852.7h4.0v71.6h-4.0zM377.9 1894.0h4.3v45.7h-4.3zM381.9 1913.1h4.0v30.3h-4.0zM385.6 1916.9h4.1v45.6h-4.1zM389.4 1879.2h4.0v64.2h-4.0zM393.1 1898.3h4.3v53.1h-4.3zM397.1 1928.6h4.0v33.9h-4.0zM400.8 1913.1h4.2v64.9h-4.2zM404.7 1936.0h4.0v49.4h-4.0zM408.4 1951.4h4.1v37.7h-4.1zM412.2 1951.4h4.1v37.7h-4.1zM416.0 1944.0h4.2v45.1h-4.2zM419.9 1955.1h4.0v34.0h-4.0zM423.6 1944.0h4.0v37.7h-4.0zM427.3 1955.1h4.3v37.7h-4.3zM431.3 1966.2h4.0v26.6h-4.0zM435.0 1955.1h4.3v41.4h-4.3zM439.0 1951.4h4.0v30.3h-4.0zM442.7 1958.8h4.0v37.7h-4.0zM446.4 1958.8h4.3v30.3h-4.3zM450.4 1944.0h4.0v45.1h-4.0zM454.1 1944.0h4.1v37.7h-4.1zM457.9 1947.7h4.3v34.0h-4.3zM461.9 1947.7h4.0v37.7h-4.0zM465.6 1962.5h4.0v37.7h-4.0zM469.3 1966.2h4.2v34.0h-4.2zM473.2 1970.0h4.0v30.2h-4.0zM476.9 1958.8h4.2v30.3h-4.2zM480.8 1958.8h4.2v26.6h-4.2zM484.7 1966.2h4.0v34.0h-4.0zM488.4 1973.6h4.0v22.9h-4.0zM690.0 2011.8h4.2v28.2h-4.2zM693.9 1989.5h4.1v54.5h-4.1zM697.7 1959.4h4.2v30.1h-4.2zM701.6 1978.6h4.1v37.1h-4.1zM705.4 1997.2h4.2v22.4h-4.2zM709.3 1967.1h4.2v56.3h-4.2zM713.2 1894.5h4.1v95.0h-4.1zM717.0 1932.4h4.2v53.2h-4.2zM720.9 1811.2h4.1v128.1h-4.1zM724.7 1757.9h4.2v71.8h-4.2zM728.6 1784.2h4.1v128.9h-4.1zM732.4 1727.1h4.2v148.1h-4.2zM736.3 1693.1h4.2v56.4h-4.2zM740.2 1715.5h4.1v64.1h-4.1zM744.0 1693.1h4.2v83.4h-4.2zM747.9 1734.8h4.1v60.2h-4.1zM751.7 1776.5h4.2v64.0h-4.2zM755.6 1811.2h4.2v71.0h-4.2zM759.5 1784.2h3.3v98.0h-3.3zM762.5 1715.5h4.2v94.9h-4.2zM766.4 1734.8h4.2v60.2h-4.2zM770.3 1727.1h4.1v117.3h-4.1zM774.1 1803.5h4.2v78.7h-4.2zM778.0 1856.0h4.1v53.2h-4.1zM781.8 1863.7h4.2v60.2h-4.2zM785.7 1696.2h4.2v201.4h-4.2zM789.6 1715.5h4.1v87.2h-4.1zM793.4 1757.2h4.2v64.0h-4.2zM797.3 1719.4h4.1v64.8h-4.1zM801.1 1730.9h4.2v98.0h-4.2zM805.0 1784.2h4.1v71.8h-4.1zM808.8 1818.1h4.2v53.3h-4.2zM812.7 1852.1h4.2v57.1h-4.2zM816.6 1871.4h4.1v60.2h-4.1zM820.4 1875.2h4.2v71.8h-4.2zM824.3 1822.0h4.1v53.2h-4.1zM828.1 1844.4h4.1v49.4h-4.1z"/>
<path d="M1394.5 501.1h3.9v29.2h-3.9zM1398.1 498.4h3.9v30.2h-3.9zM1401.7 501.9h3.9v24.9h-3.9zM1405.3 500.4h3.9v25.5h-3.9zM1408.9 499.8h3.9v27.3h-3.9zM1412.5 495.5h3.9v31.1h-3.9zM1416.1 500.8h3.9v27.0h-3.9zM1419.7 492.9h3.9v36.3h-3.9zM1423.3 494.2h3.9v32.4h-3.9zM1426.9 495.0h3.9v37.5h-3.9zM1430.5 497.2h3.9v32.0h-3.9zM1434.1 492.9h3.9v37.6h-3.9zM1437.7 498.6h3.9v32.4h-3.9zM1441.3 500.3h3.9v27.1h-3.9zM1444.9 495.4h3.9v31.6h-3.9zM1448.5 499.4h3.9v28.2h-3.9zM1452.1 496.1h3.9v37.3h-3.9zM1455.7 499.7h3.9v27.5h-3.9zM1459.3 497.6h3.9v31.8h-3.9zM1462.9 503.2h3.9v29.4h-3.9zM1466.5 498.5h3.9v32.0h-3.9zM1470.1 498.0h1.3v32.0h-1.3zM1611.6 462.9h2.8v42.1h-2.8zM1614.1 462.2h3.9v41.8h-3.9zM1617.7 464.6h3.9v41.9h-3.9zM1621.3 460.0h3.9v52.5h-3.9zM1624.9 477.6h3.9v28.6h-3.9zM1628.5 465.2h3.9v40.7h-3.9zM1632.1 444.3h3.9v60.8h-3.9zM1635.7 447.3h3.9v58.1h-3.9zM1639.3 443.0h3.9v61.2h-3.9zM1642.9 437.2h3.9v62.8h-3.9zM1646.5 434.9h3.9v49.5h-3.9zM1650.1 433.9h3.9v47.5h-3.9zM1653.7 439.7h3.9v58.4h-3.9zM1657.3 452.6h3.9v49.7h-3.9zM1660.9 461.2h3.9v44.4h-3.9zM1664.5 471.6h3.9v32.4h-3.9zM1668.1 466.9h3.9v36.1h-3.9zM1671.7 465.4h3.9v35.1h-3.9zM1675.3 450.8h3.9v44.6h-3.9zM1678.9 462.7h3.9v33.7h-3.9zM1682.5 450.6h3.9v42.2h-3.9zM1686.1 448.0h3.9v48.6h-3.9zM1689.7 467.4h3.9v34.2h-3.9zM1693.3 471.7h3.9v32.0h-3.9zM1696.9 474.7h3.9v30.0h-3.9zM1700.5 478.9h3.9v30.0h-3.9zM1704.1 477.1h3.9v45.1h-3.9zM1707.7 478.0h3.9v28.0h-3.9zM1711.3 475.0h3.9v48.2h-3.9zM1714.9 477.1h3.9v37.3h-3.9zM1718.5 480.6h3.9v45.0h-3.9zM1722.1 483.1h3.9v41.3h-3.9zM1725.7 486.0h3.9v40.2h-3.9zM1729.3 491.9h3.9v37.3h-3.9zM1732.9 488.4h3.9v36.0h-3.9zM1736.5 481.7h3.9v41.1h-3.9zM1740.1 486.5h3.9v41.4h-3.9zM1743.7 482.2h3.9v45.4h-3.9zM1747.3 479.2h3.9v45.2h-3.9zM1750.9 474.4h3.9v51.5h-3.9zM1754.5 475.6h3.9v46.9h-3.9zM1758.1 488.7h3.9v35.6h-3.9zM1761.7 491.9h3.9v43.0h-3.9zM1765.3 494.6h3.9v41.6h-3.9zM1768.9 494.1h3.9v33.7h-3.9zM1772.5 490.9h3.9v33.4h-3.9zM1776.1 486.5h3.9v36.5h-3.9zM1779.7 490.1h3.9v34.2h-3.9zM1783.3 489.6h3.9v36.6h-3.9zM1786.9 491.6h3.9v32.1h-3.9zM1790.5 490.2h3.9v31.8h-3.9zM1794.1 489.9h3.9v33.8h-3.9zM1797.7 494.9h3.9v29.2h-3.9zM1801.3 492.2h3.9v35.2h-3.9zM1804.9 497.0h3.9v32.5h-3.9zM1808.5 497.2h3.9v28.8h-3.9zM1812.1 494.3h3.9v29.1h-3.9zM1815.7 498.4h3.9v28.1h-3.9zM1819.3 492.2h3.9v29.9h-3.9zM1822.9 495.9h3.9v25.6h-3.9zM1826.5 491.4h3.9v33.4h-3.9zM1830.1 491.4h3.9v31.5h-3.9zM1833.7 482.6h3.9v39.0h-3.9zM1837.3 469.0h3.9v48.9h-3.9zM1840.9 446.0h3.9v68.0h-3.9zM1844.5 443.7h3.9v64.2h-3.9zM1848.1 450.7h3.9v54.0h-3.9zM1851.7 459.4h3.6v41.1h-3.6zM1996.0 404.8h3.6v65.8h-3.6zM1999.3 402.1h3.9v64.9h-3.9zM2002.9 402.4h3.9v56.1h-3.9zM2006.5 406.8h3.9v50.3h-3.9zM2010.1 410.0h3.9v46.2h-3.9zM2013.7 410.7h3.9v48.3h-3.9zM2017.3 416.0h3.9v46.5h-3.9zM2020.9 426.4h3.9v37.8h-3.9zM2024.5 426.1h3.9v43.6h-3.9zM2028.1 416.6h3.9v54.1h-3.9zM2031.7 420.2h3.9v52.4h-3.9zM2035.3 420.9h3.9v57.3h-3.9zM2038.9 439.1h3.9v42.7h-3.9zM2042.5 454.6h3.9v27.3h-3.9zM2046.1 449.7h3.9v32.8h-3.9zM2049.7 455.8h3.9v32.0h-3.9zM2053.3 458.9h3.9v30.0h-3.9zM2056.9 461.6h3.9v30.9h-3.9zM2060.5 460.9h3.9v41.3h-3.9zM2064.1 463.4h3.9v36.4h-3.9zM2067.7 465.3h3.9v36.1h-3.9zM2071.3 462.8h3.9v39.5h-3.9zM2074.9 469.0h3.9v33.7h-3.9zM2078.5 470.9h3.9v36.6h-3.9zM2082.1 469.8h3.9v36.8h-3.9zM2085.7 475.0h3.9v34.4h-3.9zM2089.3 473.0h3.9v32.7h-3.9zM2092.9 476.5h3.9v31.5h-3.9zM2096.5 480.1h3.9v31.9h-3.9zM2100.1 478.0h3.9v34.7h-3.9zM2103.7 481.5h3.9v31.9h-3.9zM2107.3 481.6h3.9v36.1h-3.9zM2110.9 476.8h3.9v36.6h-3.9zM2114.5 479.3h3.9v36.8h-3.9zM2118.1 481.0h3.9v33.2h-3.9zM2121.7 488.6h3.9v31.2h-3.9zM2125.3 485.7h3.9v33.6h-3.9zM2128.9 480.0h3.9v35.3h-3.9zM2132.5 474.9h3.9v44.4h-3.9zM2136.1 478.6h3.9v39.2h-3.9zM2139.7 486.7h3.9v28.3h-3.9zM2143.3 485.2h3.9v32.0h-3.9zM2146.9 487.4h3.9v33.3h-3.9zM2150.5 485.0h3.9v37.2h-3.9zM2154.1 487.3h3.9v33.4h-3.9zM2157.7 491.0h3.9v28.0h-3.9zM2161.3 486.7h3.9v34.5h-3.9zM2164.9 487.0h3.9v46.5h-3.9zM2168.5 463.6h3.9v56.2h-3.9zM2172.1 468.9h3.9v49.1h-3.9zM2175.7 488.8h3.9v28.5h-3.9zM2179.3 493.1h3.9v26.2h-3.9zM2182.9 494.1h3.9v32.9h-3.9zM2186.5 492.4h3.9v25.6h-3.9zM2190.1 494.8h3.9v18.5h-3.9zM2193.7 495.3h3.9v22.7h-3.9zM2197.3 492.4h3.9v27.2h-3.9zM2200.9 493.1h3.9v27.8h-3.9zM2204.5 493.0h3.9v23.3h-3.9zM2208.1 489.5h3.9v31.3h-3.9zM2211.7 490.8h3.9v27.1h-3.9zM2215.3 487.1h3.9v28.2h-3.9zM2218.9 489.1h2.4v23.9h-2.4zM1471.1 497.8h4.0v26.0h-4.0zM1474.8 467.0h3.9v63.9h-3.9zM1478.4 433.0h4.1v37.5h-4.1zM1482.2 425.1h4.1v41.4h-4.1zM1486.0 410.1h4.1v52.4h-4.1zM1489.8 352.8h3.9v94.8h-3.9zM1493.4 364.2h4.2v52.9h-4.2zM1497.3 391.1h4.3v45.0h-4.3zM1501.3 410.1h4.1v45.0h-4.1zM1505.1 433.0h4.0v45.0h-4.0zM1508.8 452.0h4.3v22.0h-4.3zM1512.8 429.0h3.8v41.5h-3.8zM1516.3 387.2h4.3v48.9h-4.3zM1520.3 414.1h4.0v37.4h-4.0zM1524.0 417.6h4.0v44.9h-4.0zM1527.7 425.1h4.3v45.4h-4.3zM1531.7 436.5h4.0v45.0h-4.0zM1535.4 455.5h4.1v30.0h-4.1zM1539.2 455.5h4.3v33.9h-4.3zM1543.2 440.1h4.0v33.9h-4.0zM1546.9 448.0h4.1v33.5h-4.1zM1550.7 448.0h4.1v33.5h-4.1zM1554.5 444.1h4.0v37.4h-4.0zM1558.2 455.5h4.2v41.4h-4.2zM1562.1 463.0h4.1v37.5h-4.1zM1565.9 463.0h4.0v44.9h-4.0zM1569.6 470.9h4.3v29.6h-4.3zM1573.6 470.9h3.8v26.0h-3.8zM1577.1 470.9h4.3v37.0h-4.3zM1581.1 474.4h4.2v26.1h-4.2zM1585.0 448.0h3.9v67.4h-3.9zM1588.6 455.5h4.2v33.9h-4.2zM1592.5 448.0h4.0v44.9h-4.0zM1596.2 440.1h4.1v33.9h-4.1zM1600.0 436.5h4.1v41.5h-4.1zM1603.8 459.0h4.2v30.4h-4.2zM1607.7 463.0h4.2v41.4h-4.2zM1855.0 463.6h4.3v36.7h-4.3zM1859.0 459.1h4.2v37.5h-4.2zM1862.9 291.9h4.1v200.9h-4.1zM1866.7 204.2h4.0v98.2h-4.0zM1870.4 219.2h4.4v106.5h-4.4zM1874.5 325.7h4.0v75.7h-4.0zM1878.2 318.2h4.1v64.4h-4.1zM1882.0 356.4h4.3v48.7h-4.3zM1886.0 268.7h4.1v136.4h-4.1zM1889.8 215.5h4.0v83.2h-4.0zM1893.5 204.2h4.1v68.2h-4.1zM1897.3 200.5h4.0v75.7h-4.0zM1901.0 234.2h4.2v72.0h-4.2zM1904.9 246.2h4.1v60.0h-4.1zM1908.7 283.7h4.0v34.5h-4.0zM1912.4 265.0h4.1v83.1h-4.1zM1916.2 299.4h4.0v64.5h-4.0zM1919.9 306.9h4.4v60.7h-4.4zM1924.0 318.2h4.0v42.0h-4.0zM1927.7 325.7h4.1v60.7h-4.1zM1931.5 352.6h4.0v87.0h-4.0zM1935.2 325.7h4.0v113.9h-4.0zM1938.9 325.7h4.1v45.7h-4.1zM1942.7 318.2h4.0v91.4h-4.0zM1946.4 321.9h4.4v57.0h-4.4zM1950.5 325.7h4.0v53.2h-4.0zM1954.2 325.7h4.1v60.7h-4.1zM1958.0 341.4h4.2v56.2h-4.2zM1961.9 337.7h4.0v71.9h-4.0zM1965.6 356.4h4.1v41.2h-4.1zM1969.4 360.1h4.0v37.5h-4.0zM1973.1 360.1h4.4v57.0h-4.4zM1977.2 371.4h4.0v49.4h-4.0zM1980.9 394.6h4.1v37.5h-4.1zM1984.7 387.1h4.0v52.5h-4.0zM1988.4 413.3h4.1v33.8h-4.1zM1992.2 402.1h4.1v60.7h-4.1z"/>
<path d="M1390.7 1260.0h3.9v25.5h-3.9zM1394.3 1274.5h3.9v17.1h-3.9zM1397.9 1269.9h3.9v25.4h-3.9zM1401.5 1274.5h3.9v26.7h-3.9zM1405.1 1271.4h3.9v26.3h-3.9zM1408.7 1272.1h3.9v20.6h-3.9zM1412.3 1273.0h3.9v19.0h-3.9zM1415.9 1271.2h3.9v23.7h-3.9zM1419.5 1263.3h3.9v28.0h-3.9zM1423.1 1268.9h3.9v23.6h-3.9zM1426.7 1268.1h3.9v31.2h-3.9zM1430.3 1267.0h3.9v27.2h-3.9zM1433.9 1270.6h3.9v20.5h-3.9zM1437.5 1268.6h3.9v26.0h-3.9zM1441.1 1266.6h3.9v23.0h-3.9zM1444.7 1269.4h3.9v21.2h-3.9zM1448.3 1270.4h3.9v21.7h-3.9zM1451.9 1269.6h3.9v31.2h-3.9zM1455.5 1271.9h3.9v18.5h-3.9zM1459.1 1271.5h3.9v23.2h-3.9zM1462.7 1272.0h3.9v18.9h-3.9zM1466.3 1270.5h3.9v18.1h-3.9zM1469.9 1262.9h3.9v28.2h-3.9zM1473.5 1272.1h1.8v15.8h-1.8zM1615.6 1224.5h2.2v38.9h-2.2zM1617.5 1235.4h3.9v32.7h-3.9zM1621.1 1240.3h3.9v28.6h-3.9zM1624.7 1243.0h3.9v26.5h-3.9zM1628.3 1231.7h3.9v33.7h-3.9zM1631.9 1230.0h3.9v33.9h-3.9zM1635.5 1237.0h3.9v28.4h-3.9zM1639.1 1240.4h3.9v20.8h-3.9zM1642.7 1234.6h3.9v29.5h-3.9zM1646.3 1233.9h3.9v30.9h-3.9zM1649.9 1235.5h3.9v24.3h-3.9zM1653.5 1235.9h3.9v27.2h-3.9zM1657.1 1239.8h3.9v24.8h-3.9zM1660.7 1218.1h3.9v43.1h-3.9zM1664.3 1198.5h3.9v50.1h-3.9zM1667.9 1200.9h3.9v31.3h-3.9zM1671.5 1204.6h3.9v26.9h-3.9zM1675.1 1216.5h3.9v38.7h-3.9zM1678.7 1234.7h3.9v27.1h-3.9zM1682.3 1240.5h3.9v36.3h-3.9zM1685.9 1249.1h3.9v27.5h-3.9zM1689.5 1256.8h3.9v24.4h-3.9zM1693.1 1261.7h3.9v22.2h-3.9zM1696.7 1265.2h3.9v19.4h-3.9zM1700.3 1266.0h3.9v18.5h-3.9zM1703.9 1269.3h3.9v18.0h-3.9zM1707.5 1265.6h3.9v18.9h-3.9zM1711.1 1263.4h3.9v22.4h-3.9zM1714.7 1269.1h3.9v16.5h-3.9zM1718.3 1263.5h3.9v26.6h-3.9zM1721.9 1265.0h3.9v21.9h-3.9zM1725.5 1266.7h3.9v19.0h-3.9zM1729.1 1257.6h3.9v32.7h-3.9zM1732.7 1254.9h3.9v35.6h-3.9zM1736.3 1266.8h3.9v22.4h-3.9zM1739.9 1262.2h3.9v23.5h-3.9zM1743.5 1266.1h3.9v24.7h-3.9zM1747.1 1265.4h3.9v22.7h-3.9zM1750.7 1269.5h3.9v21.1h-3.9zM1754.3 1268.7h3.9v21.7h-3.9zM1757.9 1263.8h3.9v26.5h-3.9zM1761.5 1264.5h3.9v26.7h-3.9zM1765.1 1266.2h3.9v25.6h-3.9zM1768.7 1267.7h3.9v21.8h-3.9zM1772.3 1265.2h3.9v24.0h-3.9zM1775.9 1265.2h3.9v20.8h-3.9zM1779.5 1268.6h3.9v18.4h-3.9zM1783.1 1268.6h3.9v25.2h-3.9zM1786.7 1265.1h3.9v19.4h-3.9zM1790.3 1264.0h3.9v22.2h-3.9zM1793.9 1256.1h3.9v28.8h-3.9zM1797.5 1247.9h3.9v25.1h-3.9zM1801.1 1233.6h3.9v36.7h-3.9zM1804.7 1241.9h3.9v27.9h-3.9zM1808.3 1239.2h3.9v32.6h-3.9zM1811.9 1249.4h3.4v27.6h-3.4zM1957.8 1087.4h2.0v51.5h-2.0zM1959.5 1095.7h3.9v48.2h-3.9zM1963.1 1105.0h3.9v43.2h-3.9zM1966.7 1113.7h3.9v36.3h-3.9zM1970.3 1107.1h3.9v57.4h-3.9zM1973.9 1101.5h3.9v56.9h-3.9zM1977.5 1100.2h3.9v58.4h-3.9zM1981.1 1109.1h3.9v44.8h-3.9zM1984.7 1095.4h3.9v55.3h-3.9zM1988.3 1095.8h3.9v54.3h-3.9zM1991.9 1091.0h3.9v53.3h-3.9zM1995.5 1091.0h3.9v45.6h-3.9zM1999.1 1084.7h3.9v56.2h-3.9zM2002.7 1089.0h3.9v44.4h-3.9zM2006.3 1089.6h3.9v58.1h-3.9zM2009.9 1101.3h3.9v60.7h-3.9zM2013.5 1113.1h3.9v49.0h-3.9zM2017.1 1121.2h3.9v41.2h-3.9zM2020.7 1125.9h3.9v41.5h-3.9zM2024.3 1131.5h3.9v45.7h-3.9zM2027.9 1138.7h3.9v49.4h-3.9zM2031.5 1146.1h3.9v50.5h-3.9zM2035.1 1158.6h3.9v37.9h-3.9zM2038.7 1145.4h3.9v54.1h-3.9zM2042.3 1155.9h3.9v40.5h-3.9zM2045.9 1155.4h3.9v42.6h-3.9zM2049.5 1161.7h3.9v49.6h-3.9zM2053.1 1170.8h3.9v31.1h-3.9zM2056.7 1169.1h3.9v34.0h-3.9zM2060.3 1165.1h3.9v39.6h-3.9zM2063.9 1165.7h3.9v43.7h-3.9zM2067.5 1164.9h3.9v38.1h-3.9zM2071.1 1171.6h3.9v43.5h-3.9zM2074.7 1179.1h3.9v30.7h-3.9zM2078.3 1174.5h3.9v44.1h-3.9zM2081.9 1173.4h3.9v42.6h-3.9zM2085.5 1173.9h3.9v38.4h-3.9zM2089.1 1173.2h3.9v42.7h-3.9zM2092.7 1176.1h3.9v39.4h-3.9zM2096.3 1176.1h3.9v42.1h-3.9zM2099.9 1179.7h3.9v37.6h-3.9zM2103.5 1183.9h3.9v34.3h-3.9zM2107.1 1186.1h3.9v31.0h-3.9zM2110.7 1187.2h3.9v35.4h-3.9zM2114.3 1184.6h3.9v33.3h-3.9zM2117.9 1185.3h3.9v33.5h-3.9zM2121.5 1184.4h3.9v34.4h-3.9zM2125.1 1186.0h3.9v37.7h-3.9zM2128.7 1186.5h3.9v36.4h-3.9zM2132.3 1188.1h3.9v32.1h-3.9zM2135.9 1188.8h3.9v42.7h-3.9zM2139.5 1190.2h3.9v32.2h-3.9zM2143.1 1190.9h3.9v34.6h-3.9zM2146.7 1196.8h3.9v29.5h-3.9zM2150.3 1196.0h3.9v28.1h-3.9zM2153.9 1192.1h3.9v36.6h-3.9zM2157.5 1192.4h3.9v35.6h-3.9zM2161.1 1195.4h3.9v33.1h-3.9zM2164.7 1198.5h3.9v33.4h-3.9zM2168.3 1204.7h3.9v35.8h-3.9zM2171.9 1203.6h3.9v27.8h-3.9zM2175.5 1196.5h3.9v35.6h-3.9zM2179.1 1192.5h3.9v39.4h-3.9zM2182.7 1194.6h3.9v42.8h-3.9zM2186.3 1196.0h3.9v40.4h-3.9zM2189.9 1202.6h3.9v35.3h-3.9zM2193.5 1203.9h3.9v34.9h-3.9zM2197.1 1205.3h3.9v34.5h-3.9zM2200.7 1203.0h3.9v33.5h-3.9zM2204.3 1199.5h3.9v36.6h-3.9zM2207.9 1202.1h3.9v38.3h-3.9zM2211.5 1200.6h3.9v35.4h-3.9zM2215.1 1201.7h2.2v36.4h-2.2zM1475.0 1274.1h3.6v14.5h-3.6zM1478.3 1270.2h3.9v14.6h-3.9zM1481.9 1262.5h4.4v15.0h-4.4zM1486.0 1259.1h4.0v18.4h-4.0zM1489.7 1232.1h4.3v41.6h-4.3zM1493.7 1190.1h3.9v60.4h-3.9zM1497.3 1186.3h4.1v30.4h-4.1zM1501.1 1182.8h4.2v33.9h-4.2zM1505.0 1137.0h4.1v67.7h-4.1zM1508.8 1122.0h4.2v48.8h-4.2zM1512.7 1133.1h4.2v60.4h-4.2zM1516.6 1179.0h3.7v33.8h-3.7zM1520.0 1179.0h4.3v30.0h-4.3zM1524.0 1197.8h4.3v33.9h-4.3zM1528.0 1212.8h4.0v26.6h-4.0zM1531.7 1216.7h4.0v30.0h-4.0zM1535.4 1231.7h4.0v26.5h-4.0zM1539.1 1239.4h4.3v18.8h-4.3zM1543.1 1243.2h4.0v22.8h-4.0zM1546.8 1247.1h4.3v18.9h-4.3zM1550.8 1254.8h4.0v22.7h-4.0zM1554.5 1262.5h4.1v18.9h-4.1zM1558.3 1262.5h4.2v15.0h-4.2zM1562.2 1262.5h4.1v18.9h-4.1zM1566.0 1262.5h4.0v18.9h-4.0zM1569.7 1262.5h4.1v22.3h-4.1zM1573.5 1266.0h4.2v15.4h-4.2zM1577.4 1262.5h4.1v26.1h-4.1zM1581.2 1262.5h4.0v22.3h-4.0zM1584.9 1266.0h3.9v18.8h-3.9zM1588.5 1266.0h4.2v15.4h-4.2zM1592.4 1262.5h4.1v18.9h-4.1zM1596.2 1262.5h4.2v18.9h-4.2zM1600.1 1262.5h4.2v18.9h-4.2zM1604.0 1262.5h4.1v18.9h-4.1zM1607.8 1254.8h4.2v22.7h-4.2zM1611.7 1228.2h4.2v37.8h-4.2zM1815.0 1251.5h2.7v25.4h-2.7zM1817.4 1240.2h4.0v36.7h-4.0zM1821.1 1164.0h4.1v90.4h-4.1zM1824.9 1167.6h4.1v21.8h-4.1zM1828.7 1175.3h4.0v41.0h-4.0zM1832.4 1197.9h4.1v29.7h-4.1zM1836.2 1190.1h4.1v33.9h-4.1zM1840.0 1209.2h4.2v18.4h-4.2zM1843.9 1212.7h3.9v26.1h-3.9zM1847.5 1212.7h4.2v22.6h-4.2zM1851.4 1224.0h4.1v26.1h-4.1zM1855.2 1224.0h4.1v22.6h-4.1zM1859.0 1227.6h4.3v26.8h-4.3zM1863.0 1209.2h4.1v45.2h-4.1zM1866.8 1193.7h4.0v26.8h-4.0zM1870.5 1190.1h4.1v33.9h-4.1zM1874.3 1197.9h4.1v22.6h-4.1zM1878.1 1197.9h4.2v29.7h-4.2zM1882.0 1201.4h4.1v33.9h-4.1zM1885.8 1193.7h4.0v37.4h-4.0zM1889.5 1129.5h4.1v75.5h-4.1zM1893.3 1080.1h4.1v64.2h-4.1zM1897.1 1102.7h4.0v45.1h-4.0zM1900.8 1125.2h4.1v41.7h-4.1zM1904.6 1144.3h4.1v37.4h-4.1zM1908.4 1011.6h4.3v174.3h-4.3zM1912.4 996.1h4.1v87.5h-4.1zM1916.2 1030.7h4.2v60.0h-4.2zM1920.1 1000.3h4.2v67.8h-4.2zM1924.0 992.6h3.9v64.2h-3.9zM1927.6 1003.9h4.1v63.5h-4.1zM1931.4 992.6h4.1v45.1h-4.1zM1935.2 1003.9h4.0v59.9h-4.0zM1938.9 1042.0h4.1v44.4h-4.1zM1942.7 1049.7h4.1v60.0h-4.1zM1946.5 1080.1h4.0v26.1h-4.0zM1950.2 1068.8h4.1v48.7h-4.1zM1954.0 1080.1h4.1v40.9h-4.1z"/>
<path d="M1390.7 2028.9h3.9v15.2h-3.9zM1394.3 2024.3h3.9v23.4h-3.9zM1397.9 2026.6h3.9v23.2h-3.9zM1401.5 2020.5h3.9v30.2h-3.9zM1405.1 2010.1h3.9v39.3h-3.9zM1408.7 2022.4h3.9v25.0h-3.9zM1412.3 2020.0h3.9v28.0h-3.9zM1415.9 2017.4h3.9v33.2h-3.9zM1419.5 2014.9h3.9v37.4h-3.9zM1423.1 2014.8h3.9v36.1h-3.9zM1426.7 2013.5h3.9v41.0h-3.9zM1430.3 2017.1h3.9v36.9h-3.9zM1433.9 2018.4h3.9v36.9h-3.9zM1437.5 2021.2h3.9v32.7h-3.9zM1441.1 2023.9h3.9v30.5h-3.9zM1444.7 2028.7h3.9v20.4h-3.9zM1448.3 2028.2h3.9v24.8h-3.9zM1451.9 2025.1h3.9v27.8h-3.9zM1455.5 2027.0h3.9v23.0h-3.9zM1459.1 2024.8h3.9v23.0h-3.9zM1462.7 2023.0h3.9v18.4h-3.9zM1466.3 1984.8h3.9v42.6h-3.9zM1469.9 1963.0h3.9v34.2h-3.9zM1473.5 1932.3h3.9v46.6h-3.9zM1477.1 1910.4h3.9v49.7h-3.9zM1480.7 1911.0h3.9v44.7h-3.9zM1484.3 1913.3h3.9v50.5h-3.9zM1487.9 1902.5h3.9v59.6h-3.9zM1491.5 1888.0h3.9v71.5h-3.9zM1495.1 1887.3h3.9v79.4h-3.9zM1498.7 1900.1h3.9v83.6h-3.9zM1502.3 1943.4h3.9v50.7h-3.9zM1505.9 1950.8h3.9v53.8h-3.9zM1509.5 1963.4h3.9v44.8h-3.9zM1513.1 1975.0h3.9v33.7h-3.9zM1516.7 1981.1h3.9v30.2h-3.9zM1520.3 1984.3h3.9v27.9h-3.9zM1523.9 1981.3h3.9v29.5h-3.9zM1527.5 1974.9h3.9v33.3h-3.9zM1531.1 1970.3h3.9v38.9h-3.9zM1534.7 1973.0h3.9v30.7h-3.9zM1538.3 1976.2h3.9v31.9h-3.9zM1541.9 1979.1h3.9v36.7h-3.9zM1545.5 1983.8h3.9v39.9h-3.9zM1549.1 1986.3h3.9v37.4h-3.9zM1552.7 1991.7h3.9v29.1h-3.9zM1556.3 1991.7h3.9v30.0h-3.9zM1559.9 1984.4h3.9v38.4h-3.9zM1563.5 1987.5h3.9v34.3h-3.9zM1567.1 1996.5h3.9v25.0h-3.9zM1570.7 1996.6h3.9v21.9h-3.9zM1574.3 1992.9h3.9v22.3h-3.9zM1577.9 1982.6h3.9v39.2h-3.9zM1581.5 1995.3h3.9v31.3h-3.9zM1585.1 1997.3h3.9v31.1h-3.9zM1588.7 2002.2h3.9v24.6h-3.9zM1592.3 1999.4h3.9v24.6h-3.9zM1595.9 2000.5h3.9v25.4h-3.9zM1599.5 1997.7h3.9v36.8h-3.9zM1603.1 1988.1h3.9v39.2h-3.9zM1606.7 1975.5h3.9v38.7h-3.9zM1610.3 1978.2h3.9v37.5h-3.9zM1613.9 1983.6h3.9v31.6h-3.9zM1617.5 1983.3h3.9v32.0h-3.9zM1621.1 1966.3h3.9v46.3h-3.9zM1624.7 1919.9h3.9v85.6h-3.9zM1628.3 1914.7h3.9v86.7h-3.9zM1631.9 1940.6h3.9v46.3h-3.9zM1635.5 1969.7h3.9v43.2h-3.9zM1639.1 1986.6h3.9v37.2h-3.9zM1642.7 1991.5h3.9v38.7h-3.9zM1646.3 1999.3h3.9v30.5h-3.9zM1649.9 1999.3h3.9v28.7h-3.9zM1653.5 1999.5h3.9v40.7h-3.9zM1657.1 2005.5h3.9v27.1h-3.9zM1660.7 2003.0h3.9v25.2h-3.9zM1664.3 1997.1h3.9v31.8h-3.9zM1667.9 1994.3h3.9v33.4h-3.9zM1671.5 1991.7h3.9v31.9h-3.9zM1675.1 1996.6h3.9v28.2h-3.9zM1678.7 1989.7h3.9v34.5h-3.9zM1682.3 1981.5h3.9v42.3h-3.9zM1685.9 1985.3h3.9v36.0h-3.9zM1689.5 1988.9h3.9v39.5h-3.9zM1693.1 1997.4h3.9v37.1h-3.9zM1696.7 2009.0h3.9v27.1h-3.9zM1700.3 2010.5h3.9v26.3h-3.9zM1703.9 2011.5h3.9v25.6h-3.9zM1707.5 2010.8h3.9v29.2h-3.9zM1711.1 2012.1h3.9v28.8h-3.9zM1714.7 2011.3h3.9v32.0h-3.9zM1718.3 2016.1h3.9v28.0h-3.9zM1721.9 2005.8h3.9v37.6h-3.9zM1725.5 2019.1h3.9v25.9h-3.9zM1729.1 2015.0h3.9v28.5h-3.9zM1732.7 2015.8h3.9v30.2h-3.9zM1736.3 2018.7h3.9v40.0h-3.9zM1739.9 2017.3h3.9v31.0h-3.9zM1743.5 2011.5h3.9v35.0h-3.9zM1747.1 2018.4h3.9v33.9h-3.9zM1750.7 2021.7h3.9v39.4h-3.9zM1754.3 2019.5h3.9v29.9h-3.9zM1757.9 2018.7h3.9v30.8h-3.9zM1761.5 2010.7h3.9v45.1h-3.9zM1765.1 2017.7h3.9v32.9h-3.9zM1768.7 2019.8h3.9v29.8h-3.9zM1772.3 2016.6h3.9v31.2h-3.9zM1775.9 2024.7h3.9v23.2h-3.9zM1779.5 2027.3h3.9v24.0h-3.9zM1783.1 2022.2h3.9v26.9h-3.9zM1786.7 2023.9h3.9v23.6h-3.9zM1790.3 2022.9h3.9v30.9h-3.9zM1793.9 2022.4h3.9v28.8h-3.9zM1797.5 2019.1h3.9v27.9h-3.9zM1801.1 2010.9h3.9v33.1h-3.9zM1804.7 1999.6h3.9v42.5h-3.9zM1808.3 1984.3h3.9v42.5h-3.9zM1811.9 1973.3h3.9v34.0h-3.9zM1815.5 1961.8h2.8v45.2h-2.8zM2099.2 1970.5h1.0v33.5h-1.0zM2099.9 1967.5h3.9v35.2h-3.9zM2103.5 1975.2h3.9v30.8h-3.9zM2107.1 1975.0h3.9v36.3h-3.9zM2110.7 1977.5h3.9v39.6h-3.9zM2114.3 1986.2h3.9v33.0h-3.9zM2117.9 1986.4h3.9v29.7h-3.9zM2121.5 1978.9h3.9v36.3h-3.9zM2125.1 1971.7h3.9v41.5h-3.9zM2128.7 1961.1h3.9v40.7h-3.9zM2132.3 1951.0h3.9v46.8h-3.9zM2135.9 1955.5h3.9v35.2h-3.9zM2139.5 1964.2h3.9v27.4h-3.9zM2143.1 1963.4h3.9v31.1h-3.9zM2146.7 1967.4h3.9v30.6h-3.9zM2150.3 1966.5h3.9v31.5h-3.9zM2153.9 1960.9h3.9v50.4h-3.9zM2157.5 1966.1h3.9v39.8h-3.9zM2161.1 1966.8h3.9v38.0h-3.9zM2164.7 1969.7h3.9v38.6h-3.9zM2168.3 1957.9h3.9v51.5h-3.9zM2171.9 1967.8h3.9v45.7h-3.9zM2175.5 1977.3h3.9v40.5h-3.9zM2179.1 1986.2h3.9v31.7h-3.9zM2182.7 1981.7h3.9v34.9h-3.9zM2186.3 1981.1h3.9v37.3h-3.9zM2189.9 1976.5h3.9v49.8h-3.9zM2193.5 1974.3h3.9v43.8h-3.9zM2197.1 1981.8h3.9v35.6h-3.9zM2200.7 1980.6h3.9v39.8h-3.9zM2204.3 1977.9h3.9v41.7h-3.9zM2207.9 1982.0h3.9v42.3h-3.9zM2211.5 1987.2h3.9v38.4h-3.9zM2215.1 1991.8h1.2v34.1h-1.2zM1818.0 1962.9h3.5v45.1h-3.5zM1821.2 1947.6h4.1v29.8h-4.1zM1825.0 1826.1h3.9v144.0h-3.9zM1828.6 1776.6h4.3v68.4h-4.3zM1832.6 1799.1h3.9v75.7h-3.9zM1836.2 1807.1h4.2v86.6h-4.2zM1840.1 1753.3h4.1v68.4h-4.1zM1843.9 1776.6h3.9v53.1h-3.9zM1847.5 1764.9h4.3v64.8h-4.3zM1851.5 1802.8h3.9v98.9h-3.9zM1855.1 1848.6h4.2v41.5h-4.2zM1859.0 1837.0h4.1v45.8h-4.1zM1862.8 1852.3h4.3v49.4h-4.3zM1866.8 1874.8h3.9v72.8h-3.9zM1870.4 1837.0h4.2v102.6h-4.2zM1874.3 1829.7h4.1v60.4h-4.1zM1878.1 1810.8h4.2v87.3h-4.2zM1882.0 1863.9h4.0v41.5h-4.0zM1885.7 1890.1h4.2v45.9h-4.2zM1889.6 1882.8h4.1v41.5h-4.1zM1893.4 1810.8h4.2v94.6h-4.2zM1897.3 1756.9h4.0v72.8h-4.0zM1901.0 1738.0h4.2v49.5h-4.2zM1904.9 1776.6h3.9v106.2h-3.9zM1908.5 1863.9h4.1v56.8h-4.1zM1912.3 1867.5h4.2v53.2h-4.2zM1916.2 1874.8h4.0v49.5h-4.0zM1919.9 1898.1h4.2v34.2h-4.2zM1923.8 1909.7h3.9v37.9h-3.9zM1927.4 1909.7h4.1v45.1h-4.1zM1931.2 1894.5h4.3v45.1h-4.3zM1935.2 1894.5h3.9v45.1h-3.9zM1938.8 1920.7h4.2v45.8h-4.2zM1942.7 1894.5h4.1v68.4h-4.1zM1946.5 1841.3h4.2v72.1h-4.2zM1950.4 1848.6h4.0v68.4h-4.0zM1954.1 1799.1h4.4v110.6h-4.4zM1958.2 1756.9h4.2v53.9h-4.2zM1962.1 1788.2h4.1v91.0h-4.1zM1965.9 1853.0h3.9v52.4h-3.9zM1969.5 1871.9h4.3v48.8h-4.3zM1973.5 1887.2h3.9v37.8h-3.9zM1977.1 1898.1h4.2v37.9h-4.2zM1981.0 1909.7h4.1v34.3h-4.1zM1984.8 1917.0h4.2v37.8h-4.2zM1988.7 1898.1h4.0v60.4h-4.0zM1992.4 1841.3h4.2v56.8h-4.2zM1996.3 1853.0h4.1v45.1h-4.1zM2000.1 1882.8h4.2v61.2h-4.2zM2004.0 1932.3h4.0v42.2h-4.0zM2007.7 1940.3h4.2v37.9h-4.2zM2011.6 1943.9h4.1v37.9h-4.1zM2015.4 1940.3h4.2v41.5h-4.2zM2019.3 1913.4h3.9v64.0h-3.9zM2022.9 1909.7h4.3v34.2h-4.3zM2026.9 1925.0h4.1v49.5h-4.1zM2030.7 1940.3h4.2v41.5h-4.2zM2034.6 1940.3h3.9v45.2h-3.9zM2038.2 1940.3h4.3v37.9h-4.3zM2042.2 1955.6h4.0v29.9h-4.0zM2045.9 1943.9h4.3v37.9h-4.3zM2049.9 1936.7h3.9v52.4h-3.9zM2053.5 1966.5h4.2v26.2h-4.2zM2057.4 1951.9h4.0v40.8h-4.0zM2061.1 1951.9h4.1v40.8h-4.1zM2064.9 1947.6h4.2v37.9h-4.2zM2068.8 1951.9h3.9v44.5h-3.9zM2072.4 1932.3h4.3v64.1h-4.3zM2076.4 1917.0h4.0v37.8h-4.0zM2080.1 1928.7h4.3v37.8h-4.3zM2084.1 1943.9h3.9v33.5h-3.9zM2087.7 1947.6h4.2v34.2h-4.2zM2091.6 1970.1h4.1v30.6h-4.1zM2095.4 1974.5h4.1v33.5h-4.1z"/>
</g>
<g fill="#000">
<polyline points="844.5,2916.0 852.5,2893.0 865.5,2846.0 926.3,2741.0 1050.4,2549.5 1666.2,2504.7" fill="none" stroke="#000" stroke-width="2.8"/>
<rect x="850.6" y="2878.3" width="3.8" height="28.7"/>
<rect x="837.0" y="2876.5" width="31.0" height="3.6"/>
<rect x="837.0" y="2905.2" width="31.0" height="3.6"/>
<rect x="865.3" y="2787.0" width="3.8" height="117.6"/>
<rect x="849.7" y="2785.2" width="35.0" height="3.6"/>
<rect x="849.7" y="2902.8" width="35.0" height="3.6"/>
<rect x="926.7" y="2681.7" width="3.8" height="119.3"/>
<rect x="911.6" y="2679.9" width="34.0" height="3.6"/>
<rect x="911.6" y="2799.2" width="34.0" height="3.6"/>
<rect x="1048.5" y="2487.9" width="3.8" height="122.3"/>
<rect x="1031.4" y="2486.1" width="38.0" height="3.6"/>
<rect x="1031.4" y="2608.4" width="38.0" height="3.6"/>
<rect x="1664.2" y="2423.2" width="3.8" height="160.3"/>
<rect x="1650.1" y="2421.4" width="32.0" height="3.6"/>
<rect x="1650.1" y="2581.7" width="32.0" height="3.6"/>
<rect x="842.6" y="2908.5" width="3.8" height="15.5"/>
<rect x="826.5" y="2906.7" width="36.0" height="3.6"/>
<rect x="826.5" y="2922.2" width="36.0" height="3.6"/>
<polygon points="826.0,2916.0 844.5,2899.5 863.0,2916.0 844.5,2932.5"/>
<polygon points="834.0,2893.0 852.5,2876.5 871.0,2893.0 852.5,2909.5"/>
<polygon points="847.0,2846.0 865.5,2829.5 884.0,2846.0 865.5,2862.5"/>
<polygon points="907.8,2741.0 926.3,2724.5 944.8,2741.0 926.3,2757.5"/>
<polygon points="1031.9,2549.5 1050.4,2533.0 1068.9,2549.5 1050.4,2566.0"/>
<polygon points="1647.7,2504.7 1666.2,2488.2 1684.7,2504.7 1666.2,2521.2"/>
</g>
</svg>
</body></html>
